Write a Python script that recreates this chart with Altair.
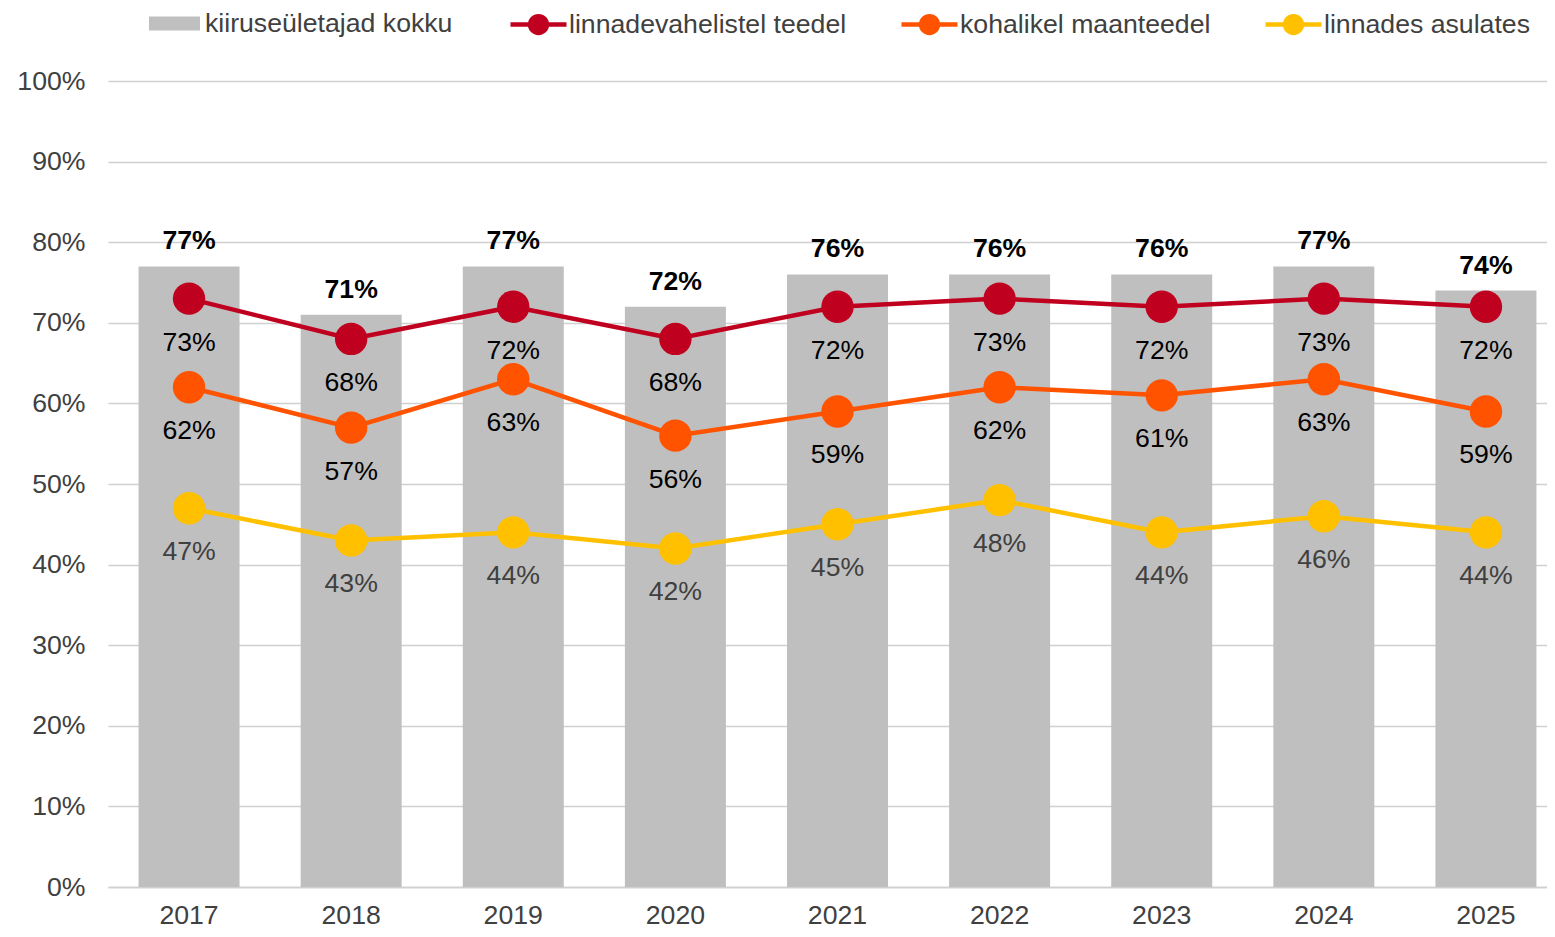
import altair as alt
import pandas as pd

years = ["2017", "2018", "2019", "2020", "2021", "2022", "2023", "2024", "2025"]
total = [77, 71, 77, 72, 76, 76, 76, 77, 74]
intercity = [73, 68, 72, 68, 72, 73, 72, 73, 72]
local_roads = [62, 57, 63, 56, 59, 62, 61, 63, 59]
urban = [47, 43, 44, 42, 45, 48, 44, 46, 44]

bar_name = "kiiruseületajad kokku"
series_names = ["linnadevahelistel teedel", "kohalikel maanteedel", "linnades asulates"]
series_colors = ["#C0001F", "#FF5300", "#FFC000"]
bar_color = "#BFBFBF"

FONT = "Liberation Sans"
TXT = "#404040"
FS = 26.67

bars_df = pd.DataFrame({"year": years, "value": total, "name": bar_name})
bars_df["label"] = [f"{v}%" for v in total]

rows = []
for name, vals in zip(series_names, [intercity, local_roads, urban]):
    for y, v in zip(years, vals):
        rows.append({"year": y, "value": v, "series": name, "label": f"{v}%"})
lines_df = pd.DataFrame(rows)

x_enc = alt.X(
    "year:O",
    scale=alt.Scale(range=[0, 1459], paddingInner=0.377, paddingOuter=0.1885),
    axis=alt.Axis(title=None, labelAngle=0, grid=False, ticks=False, domain=True,
                  labelPadding=15),
)
y_enc = alt.Y(
    "value:Q",
    scale=alt.Scale(domain=[0, 100]),
    axis=alt.Axis(title=None, values=list(range(0, 101, 10)), labelExpr="datum.value + '%'",
                  domain=False, ticks=False, grid=True, labelPadding=23),
)

bars = alt.Chart(bars_df).mark_bar(opacity=1).encode(
    x=x_enc,
    y=y_enc,
    color=alt.Color(
        "name:N",
        scale=alt.Scale(domain=[bar_name], range=[bar_color]),
        legend=alt.Legend(orient="none", legendX=41, legendY=-83, title=None,
                          symbolType="M-1,-0.27H1V0.27H-1Z", symbolSize=2601,
                          symbolStrokeWidth=0, symbolOpacity=1, labelLimit=0,
                          labelFontSize=FS, labelFont=FONT, labelColor=TXT, labelOffset=5),
    ),
)

bar_labels = alt.Chart(bars_df).mark_text(
    dy=-17, baseline="alphabetic", fontWeight="bold", fontSize=FS, font=FONT, color="#000000"
).encode(x=x_enc, y=y_enc, text="label:N")

LINE_DOT = "M-1,0H1M0.3,0A0.3,0.3,0,1,1,-0.3,0A0.3,0.3,0,1,1,0.3,0Z"
color_lines = alt.Color(
    "series:N",
    scale=alt.Scale(domain=series_names, range=series_colors),
    legend=alt.Legend(orient="none", legendX=400, legendY=-87, direction="horizontal",
                      title=None, symbolType=LINE_DOT, symbolSize=3136,
                      symbolStrokeWidth=4.5, symbolOpacity=1, columnPadding=45,
                      labelLimit=0,
                      labelFontSize=FS, labelFont=FONT, labelColor=TXT, labelOffset=0),
)

lines = alt.Chart(lines_df).mark_line(strokeWidth=4.5, opacity=1).encode(
    x=x_enc, y=y_enc, color=color_lines, detail="series:N"
)
points = alt.Chart(lines_df).mark_point(filled=True, size=1050, opacity=1, shape="circle").encode(
    x=x_enc, y=y_enc, color=color_lines
)
line_group = alt.layer(lines, points)

point_labels = alt.Chart(lines_df).mark_text(
    dy=44, baseline="middle", fontSize=FS, font=FONT
).encode(
    x=x_enc, y=y_enc, text="label:N",
    color=alt.condition(alt.datum.series == "linnades asulates", alt.value(TXT), alt.value("#000000")),
)

chart = alt.layer(bars, bar_labels, line_group, point_labels).resolve_scale(
    color="independent"
).properties(
    width=1439, height=806,
    autosize=alt.AutoSizeParams(type="none"),
    padding={"left": 100, "top": 73, "right": 0, "bottom": 42},
).configure(font=FONT).configure_view(stroke=None).configure_axis(
    labelFont=FONT, labelFontSize=FS, labelColor=TXT,
    gridColor="#D0D0D0", gridWidth=1.5, domainColor="#D0D0D0", domainWidth=1.5,
)

chart.save("out.html", embed_options={"renderer": "svg", "actions": False})
